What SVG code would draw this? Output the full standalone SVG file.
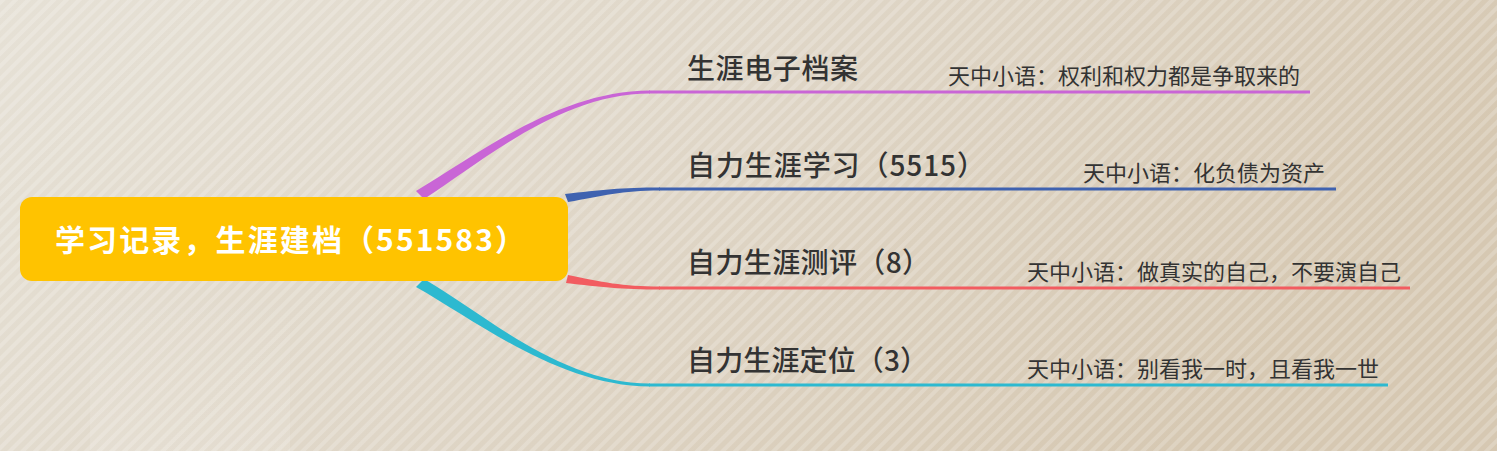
<svg xmlns="http://www.w3.org/2000/svg" width="1497" height="451" viewBox="0 0 1497 451">
<defs>
<linearGradient id="bg" x1="0" y1="0" x2="1" y2="0.3">
<stop offset="0" stop-color="#E6E1D6"/>
<stop offset="0.5" stop-color="#DFD6C7"/>
<stop offset="1" stop-color="#D6C8B2"/>
</linearGradient>
<pattern id="stripes" width="9" height="9" patternUnits="userSpaceOnUse" patternTransform="rotate(45)">
<rect width="4" height="9" fill="#ffffff" opacity="0.2"/>
</pattern>
<linearGradient id="glow" x1="0" y1="0" x2="0" y2="1">
<stop offset="0" stop-color="#ffffff" stop-opacity="0"/>
<stop offset="1" stop-color="#ffffff" stop-opacity="0.12"/>
</linearGradient>
</defs>
<style>
.lbl{font-family:"Noto Sans CJK SC","Noto Sans",sans-serif;font-size:28px;font-weight:500;fill:#333333}
.q{font-family:"Noto Sans CJK SC","Noto Sans",sans-serif;font-size:22px;fill:#333333}
.root{font-family:"Noto Sans CJK SC","Noto Sans",sans-serif;font-size:30px;font-weight:700;fill:#ffffff}
.line{fill:none;stroke-width:3}
</style>
<rect width="1497" height="451" fill="url(#bg)"/>
<rect width="1497" height="451" fill="url(#stripes)"/>
<rect x="90" y="290" width="60" height="161" fill="url(#glow)"/>
<rect x="150" y="290" width="140" height="161" fill="url(#glow)"/>

<g id="connectors">
<path d="M416,191 C478,154 560,90.5 650,90.5 L650,93.5 C560,93.5 482,162 424,199 Z" fill="#C965D6"/>
<line class="line" x1="649" y1="92" x2="1310" y2="92" stroke="#C965D6"/>
<path d="M565,194 C600,190 622,187.5 660,187.5 L660,190.5 C622,190.5 602,196 568,202 Z" fill="#3F62B0"/>
<line class="line" x1="659" y1="189" x2="1336" y2="189" stroke="#3F62B0"/>
<path d="M568,275 C602,282 622,286.5 660,286.5 L660,289.5 C622,289.5 600,287 566,283 Z" fill="#F25C60"/>
<line class="line" x1="659" y1="288" x2="1410" y2="288" stroke="#F25C60"/>
<path d="M424,279 C482,312 560,383.5 650,383.5 L650,386.5 C560,386.5 478,322 416,287 Z" fill="#2DB9D0"/>
<line class="line" x1="649" y1="385" x2="1388" y2="385" stroke="#2DB9D0"/>
</g>

<g id="root">
<rect x="20" y="197" width="548" height="84" rx="12" fill="#FFC300"/>
<text class="root" x="55" y="251" textLength="470" lengthAdjust="spacing">学习记录，生涯建档（551583）</text>
</g>

<g id="n1">
<text class="lbl" x="687" y="79" textLength="171" lengthAdjust="spacing">生涯电子档案</text>
<text class="q" x="948" y="84">天中小语：权利和权力都是争取来的</text>
</g>
<g id="n2">
<text class="lbl" x="687" y="176" textLength="298" lengthAdjust="spacing">自力生涯学习（5515）</text>
<text class="q" x="1083" y="181">天中小语：化负债为资产</text>
</g>
<g id="n3">
<text class="lbl" x="687" y="273" textLength="243" lengthAdjust="spacing">自力生涯测评（8）</text>
<text class="q" x="1027" y="280">天中小语：做真实的自己，不要演自己</text>
</g>
<g id="n4">
<text class="lbl" x="687" y="371" textLength="241" lengthAdjust="spacing">自力生涯定位（3）</text>
<text class="q" x="1027" y="377">天中小语：别看我一时，且看我一世</text>
</g>
</svg>
